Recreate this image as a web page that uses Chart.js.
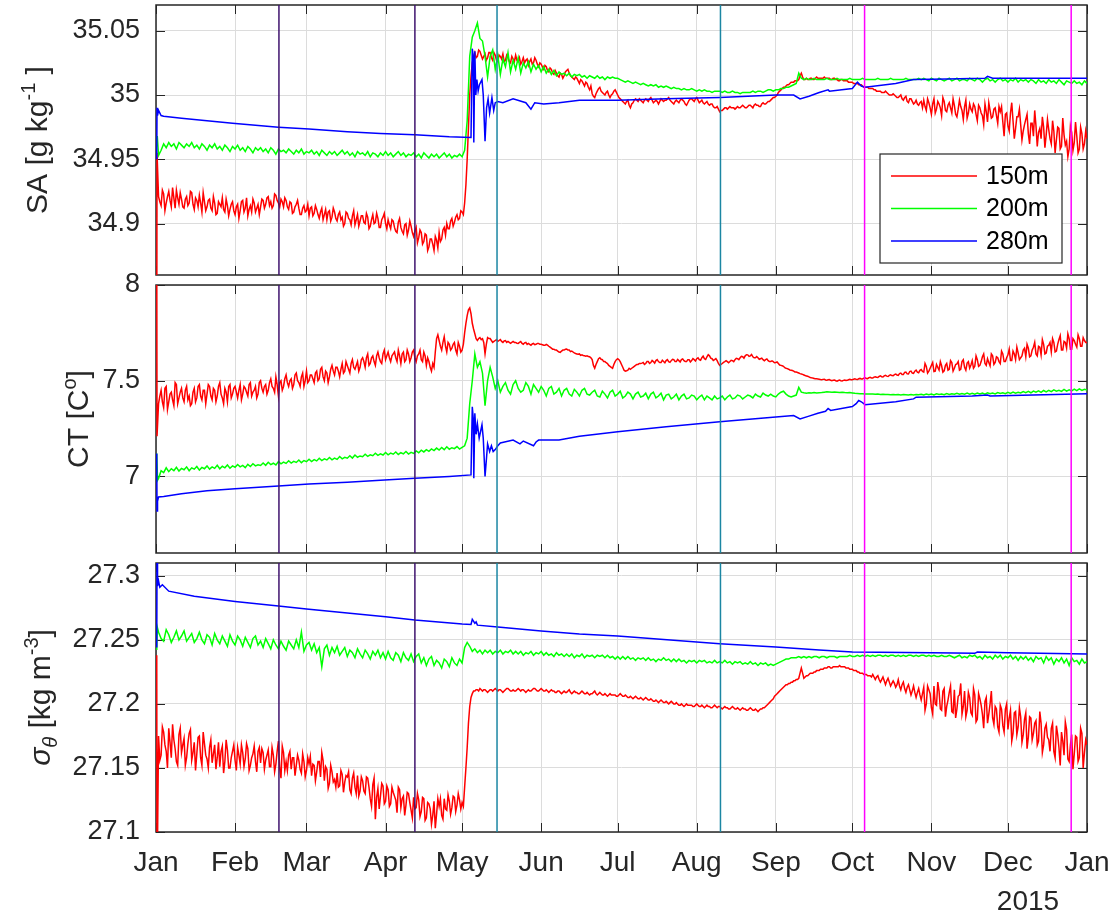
<!DOCTYPE html>
<html>
<head>
<meta charset="utf-8">
<title>Mooring time series 2015</title>
<script src="https://cdn.jsdelivr.net/npm/chart.js@4/dist/chart.umd.min.js"></script>
<style>
  body { margin: 0; background: #fff; }
  #wrap { position: relative; width: 1111px; height: 915px; overflow: hidden; }
  #wrap canvas { position: absolute; left: 0; }
</style>
</head>
<body>
<div id="wrap">
  <canvas id="saChart" width="1111" height="300" style="top:0px"></canvas>
  <canvas id="ctChart" width="1111" height="312" style="top:258px"></canvas>
  <canvas id="sgChart" width="1111" height="377" style="top:538px"></canvas>
</div>
<script>
// x axis: days since 1 Jan 2015
const monthStarts = [0, 31, 59, 90, 120, 151, 181, 212, 243, 273, 304, 334, 365];
const monthLabels = ['Jan', 'Feb', 'Mar', 'Apr', 'May', 'Jun', 'Jul', 'Aug', 'Sep', 'Oct', 'Nov', 'Dec', 'Jan'];
const yearLabel = '2015';
const depthLabels = ['150m', '200m', '280m'];

// event markers (day of year)
const markerDays = [48.2, 101.5, 133.7, 221.3, 277.8, 358.8];

// y ticks / limits
const saTicks = [34.9, 34.95, 35, 35.05];
const saRange = [34.86, 35.07];
const ctTicks = [7, 7.5, 8];
const ctRange = [6.6, 8];
const sgTicks = [27.1, 27.15, 27.2, 27.25, 27.3];
const sgRange = [27.1, 27.31];

// ---- Absolute salinity ----
// start-up points at deployment, then values on whole days (1..365)
// and, for the 150 m record, on half days (1.5..364.5)
const sa150Lead = [[0.3, 34.80], [0.4, 34.955]];
const sa150 = [
  34.921,34.914,34.923,34.916,34.925,34.913,34.92,34.926,34.915,34.919,
  34.912,34.921,34.916,34.924,34.911,34.918,34.922,34.909,34.917,34.913,
  34.919,34.91,34.916,34.908,34.915,34.92,34.909,34.914,34.911,34.917,
  34.907,34.915,34.91,34.918,34.912,34.906,34.914,34.919,34.909,34.915,
  34.913,34.918,34.915,34.921,34.917,34.914,34.922,34.916,34.919,34.913,
  34.918,34.911,34.916,34.909,34.915,34.912,34.907,34.914,34.91,34.906,
  34.913,34.908,34.911,34.904,34.912,34.907,34.903,34.91,34.905,34.909,
  34.902,34.909,34.905,34.9,34.908,34.903,34.906,34.899,34.907,34.902,
  34.906,34.9,34.905,34.898,34.907,34.901,34.904,34.897,34.905,34.9,
  34.903,34.896,34.902,34.894,34.901,34.897,34.892,34.9,34.895,34.898,
  34.89,34.897,34.889,34.893,34.886,34.891,34.882,34.888,34.879,34.887,
  34.893,34.888,34.897,34.9,34.896,34.904,34.901,34.907,34.904,34.909,
  34.916,34.95,35.0,35.025,35.033,35.03,35.034,35.028,35.032,35.029,
  35.033,35.027,35.031,35.026,35.03,35.032,35.027,35.029,35.025,35.028,
  35.031,35.026,35.024,35.029,35.027,35.023,35.028,35.025,35.027,35.022,
  35.024,35.02,35.022,35.018,35.02,35.016,35.017,35.014,35.016,35.015,
  35.019,35.017,35.014,35.012,35.013,35.009,35.011,35.007,35.009,35.004,
  35.001,34.998,35.003,35.006,35.002,35.0,35.003,34.998,35.001,35.004,
  35.0,34.997,34.995,34.993,34.996,34.99,34.994,34.997,34.995,34.996,
  34.994,34.997,34.995,34.998,34.994,34.996,34.993,34.997,34.995,34.996,
  34.998,34.995,34.993,34.996,34.994,34.997,34.995,34.992,34.996,34.997,
  34.995,34.998,34.994,34.996,34.993,34.995,34.992,34.993,34.99,34.991,
  34.987,34.988,34.99,34.989,34.991,34.99,34.989,34.991,34.99,34.992,
  34.99,34.991,34.992,34.99,34.993,34.992,34.991,34.994,34.993,34.995,
  34.996,34.998,34.999,35.002,35.004,35.006,35.007,35.008,35.01,35.01,
  35.011,35.012,35.017,35.012,35.013,35.012,35.013,35.012,35.014,35.013,
  35.013,35.014,35.013,35.013,35.012,35.013,35.012,35.011,35.012,35.011,
  35.011,35.01,35.01,35.009,35.009,35.008,35.007,35.006,35.006,35.005,
  35.005,35.004,35.003,35.003,35.002,35.003,35.001,35.0,35.001,34.999,
  34.998,35.0,34.996,34.999,34.994,34.997,34.993,34.996,34.992,34.995,
  34.996,34.988,34.994,34.985,34.997,34.989,34.993,34.984,34.995,34.987,
  34.994,34.986,34.992,34.983,34.996,34.988,34.991,34.982,34.993,34.987,
  34.991,34.98,34.99,34.984,34.993,34.979,34.988,34.983,34.99,34.978,
  34.987,34.979,34.985,34.976,34.986,34.98,34.974,34.983,34.977,34.972,
  34.981,34.97,34.978,34.968,34.976,34.971,34.966,34.975,34.969,34.973,
  34.962,34.972,34.965,34.974,34.96,34.969,34.964,34.958,34.971,34.963,
  34.968,34.958,34.97,34.962,34.966
];
const sa150Half = [
  34.917,34.926,34.91,34.921,34.918,34.928,34.912,34.92,34.924,34.913,
  34.919,34.914,34.925,34.915,34.92,34.913,34.916,34.924,34.91,34.918,
  34.912,34.921,34.907,34.917,34.913,34.911,34.919,34.906,34.915,34.91,
  34.913,34.904,34.917,34.909,34.92,34.911,34.909,34.916,34.912,34.907,
  34.919,34.912,34.92,34.914,34.912,34.923,34.918,34.913,34.917,34.92,
  34.913,34.917,34.908,34.913,34.918,34.907,34.912,34.909,34.915,34.912,
  34.906,34.914,34.907,34.909,34.903,34.911,34.909,34.902,34.912,34.904,
  34.907,34.903,34.898,34.909,34.904,34.899,34.91,34.903,34.898,34.906,
  34.901,34.908,34.896,34.903,34.9,34.908,34.897,34.903,34.908,34.896,
  34.899,34.903,34.897,34.893,34.904,34.894,34.899,34.891,34.902,34.893,
  34.894,34.885,34.895,34.884,34.892,34.879,34.888,34.884,34.89,34.881,
  34.886,34.895,34.891,34.896,34.902,34.898,34.905,34.903,34.91,34.907,
  34.93,34.975,35.015,35.03,35.029,35.035,35.031,35.03,35.027,35.033,
  35.029,35.033,35.027,35.031,35.028,35.026,35.031,35.026,35.03,35.026,
  35.027,35.029,35.026,35.025,35.028,35.026,35.024,35.029,35.024,35.025,
  35.022,35.023,35.019,35.021,35.017,35.019,35.015,35.017,35.013,35.018,
  35.02,35.015,35.013,35.014,35.011,35.012,35.009,35.01,35.006,35.007,
  34.999,35.001,35.005,35.003,35.001,35.002,35.0,35.0,35.003,35.002,
  34.998,34.996,34.994,34.995,34.992,34.993,34.996,34.996,34.997,34.995,
  34.996,34.996,34.997,34.996,34.995,34.995,34.995,34.996,34.996,34.997,
  34.996,34.994,34.995,34.995,34.996,34.996,34.993,34.994,34.997,34.996,
  34.997,34.996,34.995,34.994,34.994,34.993,34.993,34.991,34.99,34.989,
  34.988,34.989,34.99,34.99,34.99,34.99,34.99,34.99,34.991,34.991,
  34.99,34.992,34.991,34.992,34.992,34.991,34.993,34.993,34.994,34.995,
  34.997,34.998,35.0,35.003,35.005,35.006,35.008,35.009,35.01,35.011,
  35.011,35.015,35.014,35.012,35.012,35.013,35.012,35.013,35.013,35.013,
  35.013,35.013,35.013,35.012,35.013,35.012,35.011,35.012,35.011,35.011,
  35.01,35.01,35.009,35.009,35.008,35.008,35.006,35.006,35.005,35.005,
  35.004,35.003,35.003,35.002,35.002,35.002,35.0,35.0,35.0,34.998,
  34.999,34.997,34.998,34.995,34.997,34.995,34.994,34.993,34.994,34.99,
  34.991,34.997,34.99,34.993,34.986,34.995,34.99,34.998,34.988,34.992,
  34.99,34.997,34.985,34.989,34.991,34.981,34.996,34.986,34.989,34.993,
  34.985,34.992,34.986,34.977,34.987,34.994,34.982,34.989,34.984,34.991,
  34.991,34.968,34.986,34.972,34.994,34.966,34.983,34.989,34.965,34.977,
  34.985,34.962,34.978,34.988,34.96,34.974,34.983,34.959,34.981,34.966,
  34.98,34.955,34.975,34.958,34.982,34.961,34.952,34.976,34.957,34.979,
  34.955,34.975,34.958,34.972
];
const sa200Lead = [[0.3, 34.96], [0.5, 34.968]];
const sa200 = [
  34.953,34.957,34.962,34.959,34.963,34.96,34.962,34.958,34.963,34.961,
  34.959,34.962,34.96,34.963,34.959,34.961,34.958,34.962,34.96,34.957,
  34.961,34.959,34.962,34.958,34.96,34.957,34.961,34.959,34.956,34.96,
  34.958,34.961,34.957,34.959,34.956,34.96,34.958,34.955,34.959,34.957,
  34.959,34.956,34.958,34.955,34.959,34.957,34.954,34.958,34.956,34.957,
  34.955,34.958,34.956,34.954,34.957,34.955,34.958,34.954,34.956,34.955,
  34.957,34.954,34.956,34.953,34.957,34.955,34.953,34.956,34.954,34.956,
  34.953,34.955,34.957,34.954,34.956,34.953,34.955,34.952,34.956,34.954,
  34.955,34.953,34.956,34.952,34.955,34.954,34.952,34.955,34.953,34.956,
  34.953,34.955,34.952,34.954,34.956,34.953,34.955,34.952,34.954,34.953,
  34.955,34.952,34.954,34.951,34.955,34.953,34.951,34.954,34.952,34.954,
  34.951,34.953,34.955,34.952,34.954,34.951,34.953,34.952,34.954,34.952,
  34.957,34.98,35.03,35.045,35.05,35.056,35.044,35.042,35.03,35.014,
  35.03,35.035,35.02,35.031,35.016,35.028,35.022,35.033,35.018,35.027,
  35.02,35.029,35.017,35.025,35.021,35.026,35.018,35.024,35.02,35.023,
  35.018,35.022,35.017,35.02,35.016,35.019,35.015,35.018,35.016,35.017,
  35.015,35.017,35.014,35.016,35.015,35.016,35.014,35.015,35.013,35.015,
  35.014,35.013,35.015,35.013,35.014,35.012,35.014,35.013,35.014,35.013,
  35.013,35.012,35.011,35.01,35.011,35.01,35.009,35.01,35.009,35.008,
  35.009,35.008,35.007,35.008,35.007,35.008,35.006,35.007,35.006,35.007,
  35.006,35.005,35.006,35.005,35.005,35.004,35.005,35.004,35.004,35.005,
  35.004,35.003,35.004,35.003,35.004,35.003,35.003,35.002,35.003,35.003,
  35.003,35.002,35.003,35.002,35.002,35.003,35.002,35.002,35.001,35.002,
  35.002,35.002,35.002,35.003,35.002,35.003,35.003,35.002,35.003,35.004,
  35.004,35.003,35.004,35.004,35.005,35.005,35.006,35.006,35.007,35.008,
  35.009,35.017,35.013,35.012,35.013,35.012,35.012,35.013,35.012,35.012,
  35.012,35.012,35.013,35.012,35.012,35.012,35.013,35.012,35.012,35.012,
  35.012,35.013,35.012,35.012,35.012,35.012,35.013,35.012,35.012,35.012,
  35.012,35.012,35.013,35.012,35.012,35.012,35.012,35.013,35.012,35.012,
  35.012,35.012,35.012,35.013,35.012,35.012,35.012,35.012,35.013,35.012,
  35.013,35.012,35.011,35.013,35.012,35.011,35.013,35.012,35.011,35.012,
  35.013,35.011,35.012,35.013,35.011,35.012,35.012,35.011,35.013,35.012,
  35.011,35.013,35.012,35.01,35.012,35.013,35.011,35.012,35.01,35.012,
  35.013,35.011,35.012,35.01,35.012,35.011,35.013,35.01,35.012,35.011,
  35.012,35.01,35.012,35.011,35.009,35.012,35.01,35.011,35.009,35.012,
  35.01,35.011,35.009,35.012,35.01,35.008,35.011,35.01,35.009,35.011,
  35.009,35.01,35.008,35.011,35.009
];
const sa280 = [
  [0.3,34.95],[0.4,34.99],[0.6,34.984],[1,34.988],[2,34.984],[3,34.9835],[10,34.982],[20,34.98],
  [30,34.978],[48,34.975],[60,34.9735],[75,34.9715],[88,34.97],[101.5,34.969],[115,34.9675],
  [123.5,34.967],[124,35.036],[124.4,35.03],[124.6,34.963],[125,35.034],[125.4,35.0],[125.8,35.012],
  [126.3,35.003],[126.8,35.008],[127.8,35.012],[128.3,35.0],[129,34.964],[129.6,34.99],[130.2,34.997],
  [130.8,34.986],[131.7,34.998],[132.4,34.988],[133,34.994],[134,34.995],[136,34.994],[140,34.997],
  [145,34.994],[147,34.989],[148.5,34.994],[152,34.993],[158,34.994],[166,34.996],[181,34.996],
  [200,34.997],[221,34.998],[243,35.0],[250,35.0],[252.5,34.997],[256,34.999],[260,35.002],
  [263.5,35.004],[264,35.003],[273,35.005],[275,35.01],[276.5,35.007],[278,35.006],[290,35.009],
  [297,35.012],[310,35.0125],[325,35.013],[326,35.0145],[328,35.013],[345,35.013],[365,35.013]
];

// ---- Conservative temperature ----
const ct150Lead = [[0.3, 8.2], [0.4, 7.21]];
const ct150 = [
  7.38,7.45,7.36,7.47,7.39,7.44,7.37,7.48,7.41,7.46,
  7.39,7.47,7.42,7.38,7.46,7.41,7.48,7.4,7.45,7.43,
  7.47,7.4,7.45,7.42,7.49,7.41,7.46,7.39,7.48,7.43,
  7.47,7.41,7.48,7.43,7.46,7.42,7.49,7.44,7.47,7.43,
  7.5,7.44,7.48,7.45,7.51,7.46,7.52,7.42,7.5,7.47,
  7.53,7.47,7.51,7.48,7.54,7.49,7.52,7.47,7.55,7.5,
  7.53,7.49,7.55,7.51,7.57,7.5,7.54,7.52,7.58,7.53,
  7.57,7.52,7.59,7.55,7.58,7.54,7.61,7.56,7.6,7.57,
  7.62,7.57,7.64,7.59,7.63,7.58,7.65,7.6,7.64,7.61,
  7.65,7.6,7.64,7.62,7.66,7.59,7.65,7.61,7.64,7.62,
  7.66,7.6,7.64,7.61,7.65,7.58,7.6,7.55,7.57,7.72,
  7.71,7.66,7.73,7.65,7.69,7.67,7.7,7.64,7.68,7.66,
  7.75,7.84,7.88,7.8,7.745,7.71,7.725,7.72,7.64,7.725,
  7.72,7.7,7.71,7.705,7.715,7.7,7.71,7.705,7.695,7.705,
  7.7,7.695,7.705,7.69,7.7,7.695,7.685,7.695,7.69,7.695,
  7.69,7.685,7.69,7.68,7.67,7.665,7.66,7.65,7.655,7.66,
  7.665,7.66,7.655,7.645,7.64,7.64,7.635,7.63,7.63,7.625,
  7.61,7.565,7.6,7.62,7.61,7.6,7.59,7.575,7.565,7.6,
  7.615,7.6,7.57,7.55,7.555,7.56,7.57,7.58,7.585,7.59,
  7.595,7.59,7.6,7.595,7.6,7.605,7.6,7.595,7.6,7.605,
  7.6,7.605,7.61,7.6,7.605,7.61,7.605,7.6,7.61,7.605,
  7.61,7.615,7.61,7.62,7.615,7.625,7.63,7.615,7.61,7.605,
  7.58,7.59,7.6,7.6,7.6,7.605,7.61,7.615,7.62,7.625,
  7.63,7.635,7.63,7.625,7.62,7.62,7.615,7.61,7.61,7.605,
  7.6,7.6,7.595,7.59,7.58,7.575,7.565,7.56,7.555,7.55,
  7.545,7.54,7.535,7.53,7.525,7.52,7.515,7.512,7.51,7.508,
  7.505,7.508,7.503,7.506,7.5,7.504,7.498,7.503,7.499,7.504,
  7.502,7.507,7.505,7.51,7.506,7.512,7.509,7.515,7.511,7.518,
  7.514,7.521,7.517,7.525,7.52,7.528,7.522,7.531,7.526,7.535,
  7.528,7.54,7.532,7.545,7.535,7.55,7.538,7.555,7.542,7.558,
  7.545,7.575,7.55,7.58,7.548,7.585,7.556,7.578,7.552,7.59,
  7.56,7.595,7.565,7.588,7.555,7.6,7.57,7.592,7.566,7.605,
  7.575,7.61,7.58,7.625,7.59,7.615,7.578,7.63,7.595,7.62,
  7.59,7.64,7.6,7.635,7.605,7.655,7.61,7.645,7.62,7.66,
  7.625,7.67,7.63,7.675,7.64,7.68,7.635,7.69,7.645,7.685,
  7.65,7.7,7.655,7.715,7.66,7.705,7.67,7.72,7.665,7.71,
  7.675,7.72,7.68,7.71,7.7
];
const ct150Half = [
  7.42,7.39,7.46,7.35,7.43,7.4,7.49,7.38,7.44,7.41,
  7.45,7.4,7.37,7.44,7.39,7.47,7.42,7.45,7.38,7.48,
  7.42,7.46,7.39,7.47,7.43,7.38,7.44,7.47,7.41,7.46,
  7.44,7.45,7.4,7.47,7.44,7.48,7.42,7.45,7.41,7.49,
  7.46,7.47,7.43,7.49,7.47,7.44,7.48,7.49,7.45,7.51,
  7.49,7.5,7.46,7.53,7.5,7.47,7.54,7.5,7.49,7.53,
  7.51,7.54,7.5,7.56,7.52,7.55,7.49,7.56,7.55,7.57,
  7.55,7.56,7.54,7.6,7.56,7.59,7.57,7.58,7.55,7.61,
  7.6,7.62,7.58,7.62,7.6,7.63,7.62,7.59,7.66,7.63,
  7.62,7.63,7.65,7.6,7.63,7.64,7.6,7.66,7.6,7.65,
  7.62,7.63,7.66,7.6,7.63,7.62,7.57,7.59,7.65,7.74,
  7.68,7.7,7.68,7.7,7.66,7.69,7.66,7.7,7.65,7.69,
  7.8,7.87,7.85,7.77,7.72,7.72,7.715,7.7,7.69,7.72,
  7.71,7.705,7.715,7.71,7.705,7.708,7.7,7.7,7.7,7.7,
  7.696,7.7,7.695,7.698,7.69,7.69,7.692,7.688,7.695,7.69,
  7.688,7.685,7.686,7.675,7.665,7.66,7.655,7.648,7.66,7.664,
  7.66,7.652,7.65,7.642,7.638,7.632,7.632,7.628,7.626,7.62,
  7.58,7.585,7.615,7.612,7.6,7.594,7.58,7.57,7.585,7.61,
  7.61,7.585,7.555,7.552,7.565,7.565,7.575,7.585,7.59,7.592,
  7.585,7.6,7.59,7.606,7.592,7.61,7.595,7.607,7.594,7.61,
  7.596,7.612,7.6,7.611,7.598,7.614,7.6,7.61,7.598,7.615,
  7.603,7.62,7.607,7.628,7.611,7.636,7.618,7.606,7.615,7.59,
  7.585,7.596,7.605,7.594,7.607,7.6,7.617,7.61,7.627,7.618,
  7.636,7.627,7.637,7.62,7.626,7.612,7.618,7.604,7.614,7.6,
  7.604,7.594,7.598,7.582,7.578,7.568,7.563,7.556,7.553,7.546,
  7.543,7.537,7.533,7.527,7.523,7.517,7.514,7.51,7.509,7.506,
  7.507,7.504,7.505,7.502,7.503,7.5,7.501,7.5,7.502,7.501,
  7.505,7.505,7.508,7.507,7.51,7.509,7.513,7.512,7.516,7.514,
  7.519,7.518,7.522,7.521,7.525,7.524,7.528,7.527,7.532,7.53,
  7.537,7.532,7.543,7.536,7.548,7.54,7.55,7.545,7.554,7.548,
  7.59,7.54,7.565,7.595,7.55,7.57,7.6,7.545,7.58,7.555,
  7.605,7.55,7.585,7.6,7.56,7.61,7.555,7.6,7.582,7.565,
  7.63,7.575,7.6,7.64,7.58,7.595,7.64,7.585,7.625,7.6,
  7.655,7.6,7.62,7.665,7.605,7.64,7.675,7.61,7.63,7.67,
  7.69,7.625,7.66,7.7,7.63,7.675,7.715,7.64,7.68,7.7,
  7.72,7.65,7.69,7.735,7.66,7.7,7.745,7.665,7.72,7.69,
  7.74,7.68,7.725,7.7
];
const ct200Lead = [[0.3, 7.12], [0.6, 6.98]];
const ct200 = [
  6.99,7.03,7.02,7.045,7.025,7.04,7.03,7.048,7.028,7.042,
  7.035,7.05,7.03,7.045,7.038,7.052,7.033,7.047,7.04,7.055,
  7.038,7.05,7.042,7.058,7.04,7.053,7.045,7.06,7.043,7.055,
  7.048,7.062,7.05,7.058,7.046,7.063,7.052,7.066,7.055,7.061,
  7.057,7.07,7.058,7.074,7.062,7.069,7.06,7.078,7.066,7.075,
  7.068,7.082,7.07,7.079,7.073,7.086,7.072,7.083,7.077,7.09,
  7.078,7.088,7.081,7.095,7.083,7.092,7.086,7.099,7.087,7.096,
  7.089,7.104,7.092,7.1,7.095,7.108,7.096,7.112,7.1,7.107,
  7.103,7.116,7.105,7.113,7.108,7.121,7.11,7.118,7.112,7.125,
  7.113,7.122,7.116,7.128,7.115,7.124,7.118,7.13,7.117,7.126,
  7.12,7.133,7.124,7.137,7.128,7.14,7.131,7.144,7.135,7.148,
  7.138,7.151,7.14,7.155,7.142,7.15,7.145,7.156,7.143,7.152,
  7.16,7.2,7.38,7.5,7.64,7.57,7.6,7.54,7.37,7.5,
  7.57,7.52,7.46,7.5,7.44,7.47,7.49,7.45,7.43,7.48,
  7.5,7.46,7.44,7.45,7.49,7.47,7.43,7.48,7.46,7.44,
  7.47,7.45,7.42,7.46,7.47,7.43,7.44,7.46,7.42,7.45,
  7.46,7.43,7.42,7.455,7.44,7.42,7.45,7.46,7.43,7.425,
  7.44,7.45,7.42,7.415,7.445,7.43,7.41,7.44,7.45,7.42,
  7.43,7.445,7.41,7.42,7.44,7.43,7.405,7.43,7.44,7.415,
  7.42,7.435,7.405,7.43,7.44,7.41,7.42,7.435,7.4,7.425,
  7.43,7.405,7.415,7.43,7.4,7.42,7.43,7.405,7.41,7.425,
  7.42,7.4,7.415,7.425,7.4,7.42,7.41,7.4,7.42,7.405,
  7.41,7.42,7.4,7.415,7.425,7.405,7.41,7.425,7.42,7.405,
  7.415,7.425,7.42,7.41,7.43,7.42,7.415,7.435,7.425,7.42,
  7.43,7.42,7.415,7.43,7.44,7.445,7.43,7.42,7.415,7.42,
  7.425,7.465,7.44,7.437,7.435,7.437,7.436,7.438,7.436,7.437,
  7.438,7.44,7.442,7.441,7.44,7.441,7.44,7.439,7.44,7.438,
  7.437,7.438,7.436,7.434,7.433,7.432,7.432,7.431,7.43,7.431,
  7.43,7.429,7.43,7.428,7.429,7.428,7.428,7.427,7.428,7.427,
  7.428,7.426,7.428,7.427,7.426,7.428,7.426,7.428,7.427,7.429,
  7.426,7.43,7.427,7.431,7.426,7.432,7.428,7.43,7.427,7.433,
  7.428,7.432,7.429,7.434,7.429,7.433,7.43,7.435,7.429,7.434,
  7.43,7.436,7.431,7.435,7.43,7.437,7.432,7.436,7.431,7.438,
  7.433,7.437,7.432,7.439,7.434,7.441,7.435,7.44,7.436,7.443,
  7.438,7.444,7.437,7.446,7.44,7.447,7.439,7.449,7.442,7.45,
  7.443,7.452,7.445,7.45,7.444,7.455,7.446,7.453,7.447,7.456,
  7.448,7.457,7.449,7.455,7.452
];
const ct280 = [
  [0.3,7.12],[0.4,6.82],[0.6,6.87],[1,6.893],[3,6.895],[10,6.91],[20,6.925],[31,6.935],[48,6.95],
  [60,6.96],[75,6.97],[88,6.98],[101.5,6.99],[115,7.0],[123.5,7.008],[124,7.364],[124.4,7.3],
  [124.6,6.99],[125,7.33],[125.5,7.22],[126,7.275],[126.7,7.2],[127.8,7.27],[128.3,7.2],[129,7.0],
  [129.6,7.1],[130,7.17],[130.8,7.13],[131.5,7.16],[132.2,7.13],[133,7.14],[134,7.16],[135,7.175],
  [140,7.19],[142.7,7.17],[144,7.185],[148,7.16],[149,7.18],[150,7.19],[158,7.19],[166,7.21],
  [181,7.233],[200,7.26],[221,7.285],[243,7.31],[250,7.318],[252.5,7.3],[256,7.315],[259.5,7.33],
  [262.5,7.34],[263.5,7.355],[264.5,7.345],[273,7.365],[274.5,7.38],[275.5,7.397],[276.5,7.39],
  [278,7.375],[290,7.39],[297,7.405],[298,7.414],[320,7.42],[326,7.425],[327,7.42],[365,7.432]
];

// ---- Potential density anomaly ----
const sg150Lead = [[0.3, 27.238], [0.4, 27.05]];
const sg150 = [
  27.175,27.16,27.178,27.163,27.181,27.158,27.172,27.155,27.176,27.162,
  27.173,27.158,27.177,27.156,27.17,27.161,27.175,27.152,27.169,27.157,
  27.166,27.154,27.168,27.158,27.151,27.167,27.155,27.164,27.15,27.163,
  27.156,27.166,27.153,27.162,27.157,27.165,27.152,27.161,27.155,27.163,
  27.154,27.162,27.156,27.164,27.151,27.16,27.153,27.171,27.142,27.162,
  27.155,27.16,27.149,27.158,27.152,27.156,27.146,27.155,27.148,27.153,
  27.144,27.152,27.147,27.155,27.162,27.14,27.149,27.138,27.147,27.141,
  27.146,27.136,27.145,27.139,27.143,27.133,27.142,27.135,27.144,27.132,
  27.14,27.13,27.142,27.126,27.137,27.11,27.134,27.128,27.136,27.124,
  27.133,27.122,27.131,27.125,27.135,27.119,27.128,27.121,27.13,27.117,
  27.127,27.119,27.125,27.116,27.126,27.111,27.122,27.106,27.124,27.114,
  27.12,27.113,27.126,27.117,27.124,27.119,27.127,27.121,27.125,27.123,
  27.135,27.166,27.198,27.208,27.21,27.211,27.212,27.21,27.211,27.209,
  27.211,27.21,27.212,27.21,27.211,27.209,27.211,27.212,27.21,27.211,
  27.21,27.212,27.21,27.211,27.209,27.211,27.21,27.212,27.211,27.21,
  27.212,27.21,27.211,27.209,27.211,27.21,27.209,27.21,27.208,27.21,
  27.209,27.211,27.208,27.21,27.209,27.208,27.21,27.208,27.209,27.207,
  27.208,27.21,27.207,27.209,27.207,27.208,27.206,27.208,27.207,27.207,
  27.206,27.208,27.206,27.207,27.205,27.206,27.204,27.206,27.204,27.205,
  27.203,27.205,27.203,27.204,27.202,27.203,27.201,27.203,27.201,27.202,
  27.2,27.202,27.2,27.201,27.199,27.2,27.198,27.2,27.199,27.199,
  27.198,27.2,27.198,27.199,27.197,27.199,27.198,27.197,27.199,27.197,
  27.198,27.196,27.198,27.197,27.196,27.198,27.196,27.197,27.195,27.197,
  27.196,27.195,27.197,27.195,27.196,27.194,27.196,27.197,27.198,27.2,
  27.202,27.204,27.207,27.209,27.211,27.213,27.215,27.216,27.217,27.218,
  27.219,27.22,27.228,27.22,27.222,27.223,27.224,27.225,27.226,27.226,
  27.227,27.228,27.228,27.229,27.228,27.229,27.229,27.23,27.229,27.229,
  27.228,27.227,27.227,27.226,27.225,27.224,27.224,27.223,27.222,27.222,
  27.223,27.219,27.222,27.217,27.221,27.215,27.22,27.214,27.218,27.213,
  27.219,27.211,27.217,27.209,27.215,27.207,27.214,27.205,27.212,27.203,
  27.213,27.2,27.211,27.197,27.214,27.199,27.21,27.195,27.212,27.198,
  27.209,27.194,27.211,27.196,27.207,27.192,27.21,27.195,27.205,27.191,
  27.207,27.188,27.204,27.192,27.202,27.185,27.2,27.189,27.198,27.182,
  27.199,27.183,27.196,27.18,27.195,27.177,27.194,27.182,27.19,27.176,
  27.193,27.174,27.189,27.177,27.187,27.171,27.185,27.168,27.184,27.172,
  27.181,27.163,27.183,27.166,27.178,27.16,27.18,27.155,27.176,27.161,
  27.174,27.158,27.177,27.162,27.168
];
const sg150Half = [
  27.156,27.182,27.168,27.15,27.17,27.184,27.165,27.152,27.181,27.168,
  27.152,27.169,27.18,27.162,27.148,27.174,27.158,27.178,27.16,27.15,
  27.172,27.161,27.149,27.17,27.163,27.146,27.172,27.15,27.158,27.168,
  27.148,27.16,27.168,27.151,27.169,27.148,27.158,27.167,27.147,27.166,
  27.165,27.149,27.16,27.151,27.166,27.147,27.163,27.15,27.167,27.148,
  27.148,27.163,27.158,27.144,27.16,27.149,27.161,27.143,27.158,27.159,
  27.153,27.14,27.155,27.143,27.156,27.151,27.134,27.152,27.139,27.135,
  27.135,27.148,27.131,27.144,27.147,27.13,27.146,27.13,27.128,27.143,
  27.132,27.143,27.135,27.12,27.142,27.127,27.118,27.138,27.122,27.136,
  27.12,27.135,27.128,27.115,27.133,27.126,27.113,27.131,27.123,27.111,
  27.118,27.13,27.112,27.127,27.109,27.123,27.118,27.113,27.103,27.126,
  27.126,27.11,27.118,27.129,27.114,27.128,27.116,27.13,27.118,27.12,
  27.15,27.185,27.205,27.21,27.211,27.21,27.211,27.211,27.21,27.21,
  27.211,27.211,27.211,27.211,27.21,27.21,27.212,27.211,27.21,27.21,
  27.211,27.211,27.211,27.21,27.21,27.21,27.211,27.212,27.21,27.211,
  27.211,27.21,27.21,27.21,27.21,27.209,27.21,27.209,27.209,27.209,
  27.21,27.209,27.209,27.209,27.208,27.209,27.209,27.208,27.208,27.208,
  27.209,27.208,27.208,27.208,27.207,27.207,27.207,27.207,27.207,27.206,
  27.207,27.207,27.206,27.206,27.205,27.205,27.205,27.205,27.204,27.204,
  27.204,27.204,27.203,27.203,27.202,27.202,27.202,27.202,27.201,27.201,
  27.201,27.201,27.2,27.2,27.199,27.199,27.199,27.199,27.199,27.198,
  27.199,27.199,27.198,27.198,27.198,27.198,27.197,27.198,27.198,27.198,
  27.197,27.197,27.197,27.196,27.197,27.197,27.196,27.196,27.196,27.196,
  27.195,27.196,27.196,27.195,27.195,27.195,27.196,27.197,27.199,27.201,
  27.203,27.206,27.208,27.21,27.212,27.214,27.215,27.216,27.217,27.218,
  27.219,27.224,27.224,27.221,27.222,27.224,27.224,27.225,27.226,27.227,
  27.227,27.228,27.229,27.228,27.229,27.229,27.229,27.229,27.229,27.228,
  27.228,27.227,27.226,27.226,27.225,27.224,27.223,27.223,27.222,27.221,
  27.221,27.221,27.219,27.219,27.218,27.218,27.217,27.216,27.216,27.215,
  27.214,27.215,27.212,27.213,27.211,27.21,27.209,27.209,27.207,27.208,
  27.195,27.214,27.208,27.192,27.2,27.217,27.196,27.21,27.19,27.203,
  27.214,27.193,27.189,27.206,27.216,27.198,27.19,27.209,27.193,27.212,
  27.186,27.208,27.199,27.181,27.205,27.192,27.21,27.184,27.196,27.178,
  27.196,27.178,27.2,27.189,27.171,27.193,27.176,27.197,27.17,27.188,
  27.165,27.19,27.172,27.185,27.168,27.194,27.162,27.181,27.174,27.163,
  27.185,27.158,27.176,27.152,27.171,27.186,27.157,27.168,27.149,27.175,
  27.155,27.181,27.15,27.172
];
const sg200Lead = [[0.3, 27.242], [0.5, 27.26]];
const sg200 = [
  27.256,27.251,27.249,27.258,27.254,27.248,27.252,27.257,27.25,27.253,
  27.257,27.249,27.252,27.255,27.248,27.251,27.256,27.25,27.247,27.254,
  27.252,27.246,27.255,27.25,27.247,27.253,27.249,27.245,27.254,27.249,
  27.246,27.253,27.25,27.245,27.252,27.248,27.244,27.251,27.253,27.246,
  27.249,27.244,27.251,27.247,27.243,27.25,27.246,27.243,27.249,27.245,
  27.242,27.249,27.246,27.243,27.25,27.244,27.256,27.241,27.246,27.248,
  27.242,27.247,27.24,27.244,27.229,27.243,27.246,27.238,27.244,27.24,
  27.245,27.238,27.241,27.244,27.237,27.242,27.24,27.236,27.243,27.239,
  27.236,27.242,27.239,27.235,27.241,27.238,27.242,27.236,27.24,27.235,
  27.241,27.236,27.234,27.24,27.238,27.233,27.24,27.236,27.234,27.239,
  27.233,27.237,27.239,27.232,27.236,27.23,27.235,27.237,27.23,27.234,
  27.232,27.228,27.235,27.233,27.229,27.236,27.232,27.23,27.235,27.232,
  27.244,27.248,27.245,27.241,27.243,27.24,27.242,27.239,27.242,27.24,
  27.242,27.239,27.241,27.24,27.242,27.239,27.241,27.24,27.242,27.239,
  27.241,27.239,27.241,27.238,27.24,27.239,27.241,27.238,27.24,27.239,
  27.241,27.238,27.24,27.238,27.239,27.237,27.24,27.238,27.239,27.237,
  27.239,27.237,27.239,27.236,27.238,27.237,27.239,27.236,27.238,27.237,
  27.238,27.236,27.238,27.237,27.238,27.236,27.238,27.236,27.237,27.235,
  27.237,27.235,27.237,27.235,27.237,27.235,27.236,27.234,27.236,27.235,
  27.236,27.234,27.236,27.234,27.235,27.233,27.235,27.234,27.236,27.234,
  27.235,27.233,27.235,27.233,27.235,27.233,27.234,27.232,27.234,27.233,
  27.234,27.232,27.234,27.233,27.234,27.232,27.233,27.232,27.234,27.232,
  27.233,27.232,27.234,27.232,27.233,27.231,27.233,27.232,27.233,27.231,
  27.232,27.231,27.233,27.231,27.232,27.23,27.232,27.231,27.232,27.23,
  27.231,27.23,27.231,27.232,27.233,27.234,27.235,27.235,27.236,27.236,
  27.236,27.237,27.236,27.237,27.236,27.237,27.236,27.237,27.237,27.236,
  27.237,27.237,27.236,27.237,27.237,27.237,27.236,27.237,27.237,27.237,
  27.237,27.238,27.237,27.237,27.238,27.237,27.238,27.237,27.238,27.237,
  27.238,27.237,27.238,27.238,27.237,27.238,27.237,27.238,27.238,27.237,
  27.238,27.237,27.238,27.237,27.238,27.238,27.237,27.238,27.237,27.238,
  27.238,27.237,27.238,27.237,27.238,27.237,27.237,27.238,27.237,27.237,
  27.238,27.237,27.236,27.237,27.238,27.236,27.237,27.236,27.238,27.237,
  27.238,27.236,27.237,27.235,27.238,27.236,27.237,27.235,27.238,27.236,
  27.238,27.235,27.237,27.236,27.238,27.235,27.237,27.234,27.237,27.235,
  27.237,27.234,27.236,27.233,27.237,27.235,27.236,27.232,27.237,27.234,
  27.236,27.231,27.235,27.233,27.236,27.232,27.235,27.23,27.236,27.233,
  27.234,27.231,27.235,27.232,27.233
];
const sg280 = [
  [0.3,27.244],[0.4,27.31],[0.6,27.292],[1,27.296],[1.5,27.291],[2.5,27.293],[5,27.288],[15,27.284],
  [31,27.28],[48,27.2765],[59,27.274],[75,27.271],[90,27.268],[101.5,27.2655],[120,27.2624],
  [123.5,27.262],[124,27.266],[125,27.263],[125.5,27.264],[126,27.2615],[134,27.26],[151,27.257],
  [166,27.2546],[181,27.253],[221,27.247],[243,27.2445],[260,27.242],[273,27.2405],[304,27.24],
  [321,27.2395],[322,27.2405],[334,27.24],[365,27.239]
];

// ---- styling ----
const FONT = '"Liberation Sans", Arial, Helvetica, sans-serif';
const TEXT = '#262626';
const GRID = '#dcdcdc';
const seriesColors = ['#ff0000', '#00ff00', '#0000ff'];
const markerColors = ['#3f136e', '#3f136e', '#1b86a3', '#1b86a3', '#ff00ff', '#ff00ff'];
const AREA_LEFT = 156;
const AREA_RIGHT_PAD = 24;

function toPoints(arr) {
  return arr.map(p => ({ x: p[0], y: p[1] }));
}
// lead-in points, then whole-day values with optional half-day values in between
function withDaily(lead, vals, half) {
  const pts = toPoints(lead);
  vals.forEach((v, i) => {
    pts.push({ x: i + 1, y: v });
    if (half && i < half.length) pts.push({ x: i + 1.5, y: half[i] });
  });
  return pts;
}
function fmt(v) {
  return String(Number(v.toFixed(3)));
}

// box, inward tick marks on all four sides (drawn under the data)
const frame = {
  id: 'frame',
  beforeDatasetsDraw(chart) {
    const { ctx, chartArea: a, scales } = chart;
    ctx.save();
    ctx.strokeStyle = TEXT;
    ctx.lineWidth = 1;
    ctx.beginPath();
    scales.x.ticks.forEach(t => {
      const px = Math.round(scales.x.getPixelForValue(t.value)) + 0.5;
      ctx.moveTo(px, a.bottom); ctx.lineTo(px, a.bottom - 9);
      ctx.moveTo(px, a.top); ctx.lineTo(px, a.top + 9);
    });
    scales.y.ticks.forEach(t => {
      const py = Math.round(scales.y.getPixelForValue(t.value)) + 0.5;
      ctx.moveTo(a.left, py); ctx.lineTo(a.left + 9, py);
      ctx.moveTo(a.right, py); ctx.lineTo(a.right - 9, py);
    });
    ctx.stroke();
    ctx.lineWidth = 1.5;
    ctx.strokeRect(a.left, a.top, a.right - a.left, a.bottom - a.top);
    ctx.restore();
  }
};

// rotated y-axis title made of runs (normal / superscript / subscript)
const yTitle = {
  id: 'yTitle',
  afterDraw(chart, args, opts) {
    const { ctx, chartArea: a } = chart;
    const runs = opts.runs;
    ctx.save();
    ctx.fillStyle = TEXT;
    ctx.textBaseline = 'alphabetic';
    let total = 0;
    runs.forEach(r => {
      ctx.font = (r.italic ? 'italic ' : '') + r.size + 'px ' + FONT;
      r.w = ctx.measureText(r.text).width;
      total += r.w;
    });
    ctx.translate(opts.x, (a.top + a.bottom) / 2);
    ctx.rotate(-Math.PI / 2);
    let cx = -total / 2;
    runs.forEach(r => {
      ctx.font = (r.italic ? 'italic ' : '') + r.size + 'px ' + FONT;
      ctx.fillText(r.text, cx, r.dy || 0);
      cx += r.w;
    });
    ctx.restore();
  }
};

// boxed legend inside the top panel
const boxLegend = {
  id: 'boxLegend',
  afterDatasetsDraw(chart, args, opts) {
    if (!opts.show) return;
    const { ctx, chartArea: a } = chart;
    const w = 182, h = 109;
    const x0 = a.right - 25 - w, y0 = a.bottom - 12 - h;
    ctx.save();
    ctx.fillStyle = '#fff';
    ctx.fillRect(x0, y0, w, h);
    ctx.strokeStyle = TEXT;
    ctx.lineWidth = 1.2;
    ctx.strokeRect(x0, y0, w, h);
    ctx.font = '25px ' + FONT;
    ctx.textBaseline = 'middle';
    depthLabels.forEach((lab, i) => {
      const yy = y0 + 22 + i * 32.5;
      ctx.strokeStyle = seriesColors[i];
      ctx.lineWidth = 1.5;
      ctx.beginPath();
      ctx.moveTo(x0 + 11, yy); ctx.lineTo(x0 + 97, yy);
      ctx.stroke();
      ctx.fillStyle = '#000';
      ctx.fillText(lab, x0 + 106, yy + 1);
    });
    ctx.restore();
  }
};

// year under the last month labels
const yearText = {
  id: 'yearText',
  afterDraw(chart, args, opts) {
    if (!opts.show) return;
    const { ctx, chartArea: a } = chart;
    ctx.save();
    ctx.fillStyle = TEXT;
    ctx.font = '28px ' + FONT;
    ctx.textAlign = 'center';
    ctx.textBaseline = 'middle';
    ctx.fillText(yearLabel, a.right - 59, a.bottom + 70);
    ctx.restore();
  }
};

function makePanel(id, cfg) {
  const [lo, hi] = cfg.range;
  const markers = markerDays.map((d, i) => ({
    data: [{ x: d, y: lo - 1 }, { x: d, y: hi + 1 }],
    borderColor: markerColors[i],
    borderWidth: 1.5,
    order: 0
  }));
  const series = cfg.series.map((pts, i) => ({
    label: depthLabels[i],
    data: pts,
    borderColor: seriesColors[i],
    borderWidth: 1.5,
    order: 3 - i
  }));

  return new Chart(document.getElementById(id), {
    type: 'line',
    data: { datasets: markers.concat(series) },
    options: {
      responsive: false,
      animation: false,
      events: [],
      layout: { padding: { left: 0, right: AREA_RIGHT_PAD, top: cfg.padTop, bottom: 0 } },
      elements: { point: { radius: 0 }, line: { tension: 0 } },
      plugins: {
        legend: { display: false },
        tooltip: { enabled: false },
        yTitle: { runs: cfg.title, x: cfg.titleX },
        boxLegend: { show: !!cfg.legend },
        yearText: { show: !!cfg.showX }
      },
      scales: {
        x: {
          type: 'linear',
          min: 0,
          max: 365,
          afterBuildTicks: s => { s.ticks = monthStarts.map(v => ({ value: v })); },
          afterFit: s => { s.height = cfg.xHeight; s.paddingLeft = 0; s.paddingRight = 0; },
          grid: { color: GRID, lineWidth: 1, drawTicks: false },
          border: { display: false },
          ticks: {
            display: !!cfg.showX,
            autoSkip: false,
            maxRotation: 0,
            padding: 14,
            color: TEXT,
            font: { family: FONT, size: 28 },
            callback: (v, i) => monthLabels[i]
          }
        },
        y: {
          type: 'linear',
          min: lo,
          max: hi,
          afterBuildTicks: s => { s.ticks = cfg.ticks.map(v => ({ value: v })); },
          afterFit: s => { s.width = AREA_LEFT; s.paddingTop = 0; s.paddingBottom = 0; },
          grid: { color: GRID, lineWidth: 1, drawTicks: false },
          border: { display: false },
          ticks: {
            padding: 16,
            color: TEXT,
            font: { family: FONT, size: 27 },
            callback: v => fmt(v)
          }
        }
      }
    },
    plugins: [frame, yTitle, boxLegend, yearText]
  });
}

makePanel('saChart', {
  range: saRange, ticks: saTicks, padTop: 5, xHeight: 25, legend: true,
  series: [withDaily(sa150Lead, sa150, sa150Half), withDaily(sa200Lead, sa200), toPoints(sa280)],
  titleX: 47,
  title: [
    { text: 'SA [g kg', size: 30 },
    { text: '-1', size: 20, dy: -12 },
    { text: ' ]', size: 30 }
  ]
});

makePanel('ctChart', {
  range: ctRange, ticks: ctTicks, padTop: 27, xHeight: 17,
  series: [withDaily(ct150Lead, ct150, ct150Half), withDaily(ct200Lead, ct200), toPoints(ct280)],
  titleX: 88,
  title: [
    { text: 'CT [C', size: 30 },
    { text: 'o', size: 20, dy: -12 },
    { text: ']', size: 30 }
  ]
});

makePanel('sgChart', {
  range: sgRange, ticks: sgTicks, padTop: 25, xHeight: 83, showX: true,
  series: [withDaily(sg150Lead, sg150, sg150Half), withDaily(sg200Lead, sg200), toPoints(sg280)],
  titleX: 50,
  title: [
    { text: 'σ', size: 30, italic: true },
    { text: 'θ', size: 20, dy: 7, italic: true },
    { text: ' [kg m', size: 30 },
    { text: '-3', size: 20, dy: -12 },
    { text: ']', size: 30 }
  ]
});
</script>
</body>
</html>
